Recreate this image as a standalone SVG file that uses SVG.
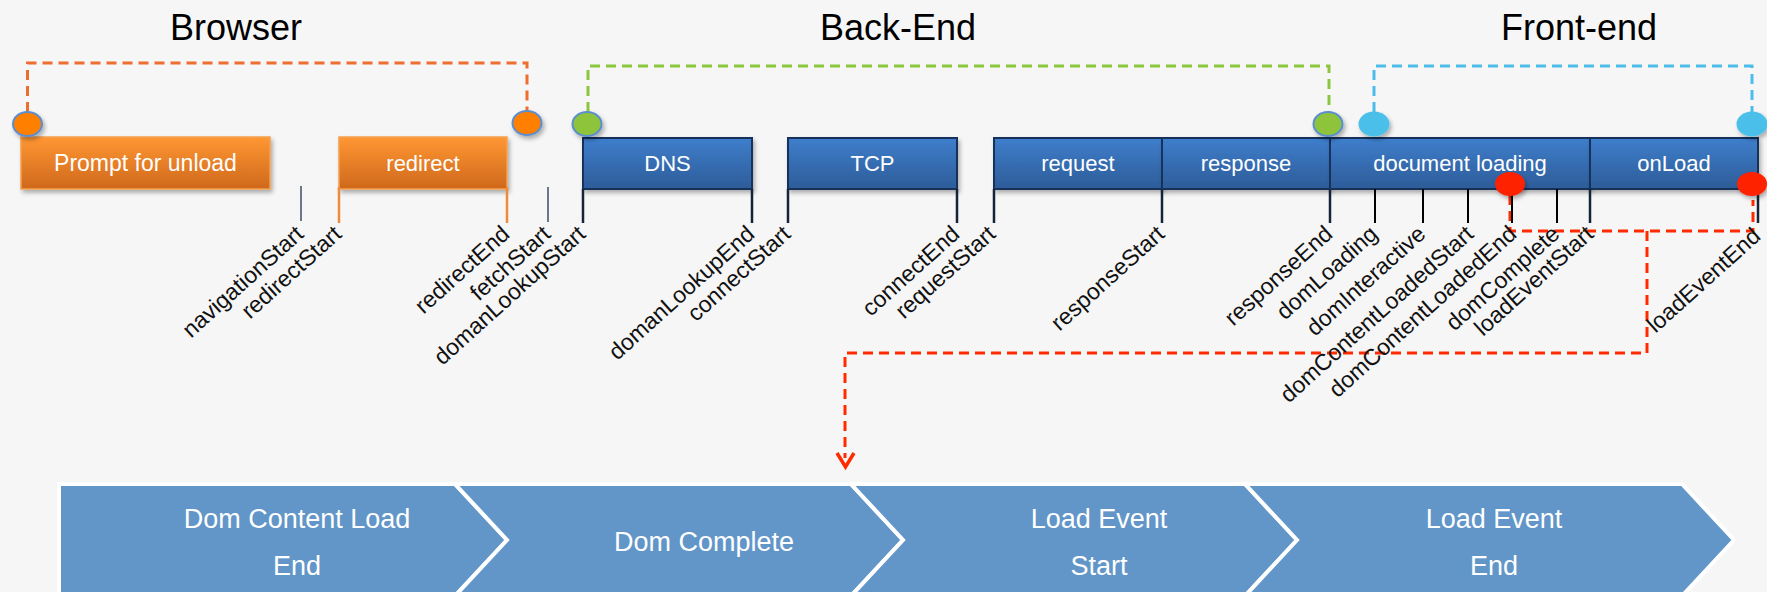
<svg xmlns="http://www.w3.org/2000/svg" width="1767" height="592" viewBox="0 0 1767 592">
<defs>
<linearGradient id="gOrange" x1="0" y1="0" x2="0" y2="1">
<stop offset="0" stop-color="#FF9733"/><stop offset="1" stop-color="#CF681C"/>
</linearGradient>
<linearGradient id="gBlue" x1="0" y1="0" x2="0" y2="1">
<stop offset="0" stop-color="#3F7ECC"/><stop offset="1" stop-color="#2D5C98"/>
</linearGradient>
<filter id="sh" x="-10%" y="-20%" width="130%" height="160%">
<feDropShadow dx="2" dy="3" stdDeviation="2" flood-color="#000" flood-opacity="0.3"/>
</filter>
</defs>
<style>
.title{font-family:"Liberation Sans",Arial,sans-serif;font-size:36px;fill:#000;text-anchor:middle}
.btxt{font-family:"Liberation Sans",Arial,sans-serif;font-size:22px;fill:#fff;text-anchor:middle}
.lbl{font-family:"Liberation Sans",Arial,sans-serif;font-size:23px;fill:#111;text-anchor:end}
.ctxt{font-family:"Liberation Sans",Arial,sans-serif;font-size:27px;fill:#fff;text-anchor:middle}
.obox{fill:url(#gOrange);stroke:#F5A04E;stroke-width:1.5}
.bbox{fill:url(#gBlue);stroke:#15305A;stroke-width:2}
.oline{stroke:#EF8A3C;stroke-width:2.5;fill:none}
.bline{stroke:#15243A;stroke-width:2.5;fill:none}
.tline{stroke:#000;stroke-width:2;fill:none}
.thin{stroke:#3E4F68;stroke-width:1.5;fill:none}
.dash{fill:none;stroke-width:3;stroke-dasharray:10 6}
.chev{fill:#6296C8;stroke:#fff;stroke-width:4;stroke-linejoin:miter}
</style>
<rect x="0" y="0" width="1767" height="592" fill="#F6F6F6"/>

<g id="titles">
<text class="title" x="236" y="40">Browser</text>
<text class="title" x="898" y="40">Back-End</text>
<text class="title" x="1579" y="40">Front-end</text>
</g>

<g id="connectors">
<path class="dash" stroke="#EE6E2E" d="M27.5,112 V63 H527 V111"/>
<path class="dash" stroke="#8CC63E" d="M588,112 V66 H1329 V112"/>
<path class="dash" stroke="#4CBDEA" d="M1374,112 V66 H1752 V112"/>
<path class="dash" stroke="#FF2A00" d="M1510,195 V231 H1753 V200"/>
<path class="dash" stroke="#FF2A00" d="M1647,231 V353 H845 V458"/>
<polyline points="837,453 845.5,467 854,453" fill="none" stroke="#FF2A00" stroke-width="3.5" stroke-linejoin="miter"/>
</g>

<g id="prompt-for-unload">
<rect class="obox" x="21" y="137" width="249" height="52" filter="url(#sh)"/>
<text class="btxt" x="145.5" y="171" style="font-size:23px">Prompt for unload</text>
</g>
<g id="redirect">
<rect class="obox" x="339" y="137" width="168" height="52" filter="url(#sh)"/>
<text class="btxt" x="423" y="171">redirect</text>
<path class="oline" d="M339,187 V223 M507,187 V223"/>
</g>
<g id="dns">
<rect class="bbox" x="583" y="138" width="169" height="51" filter="url(#sh)"/>
<text class="btxt" x="667.5" y="171">DNS</text>
<path class="bline" d="M583,189 V223 M752,189 V223"/>
</g>
<g id="tcp">
<rect class="bbox" x="788" y="138" width="169" height="51" filter="url(#sh)"/>
<text class="btxt" x="872.5" y="171">TCP</text>
<path class="bline" d="M788,189 V223 M957,189 V223"/>
</g>
<g id="request">
<rect class="bbox" x="994" y="138" width="168" height="51" filter="url(#sh)"/>
<text class="btxt" x="1078" y="171">request</text>
<path class="bline" d="M994,189 V223 M1162,189 V223"/>
</g>
<g id="response">
<rect class="bbox" x="1162" y="138" width="168" height="51" filter="url(#sh)"/>
<text class="btxt" x="1246" y="171">response</text>
<path class="bline" d="M1330,189 V223"/>
</g>
<g id="document-loading">
<rect class="bbox" x="1330" y="138" width="260" height="51" filter="url(#sh)"/>
<text class="btxt" x="1460" y="171">document loading</text>
<path class="tline" d="M1375,189 V223 M1423,189 V223 M1468,189 V223 M1512,189 V223 M1557,189 V223"/>
</g>
<g id="onload">
<rect class="bbox" x="1590" y="138" width="168" height="51" filter="url(#sh)"/>
<text class="btxt" x="1674" y="171">onLoad</text>
<path class="bline" d="M1590,189 V223 M1758,189 V223"/>
</g>

<g id="ticks">
<path class="thin" d="M301,186 V221 M548,187 V222"/>
</g>

<g id="markers">
<ellipse cx="27.5" cy="124" rx="14.5" ry="12" fill="#FF7F00" stroke="#5C8ECF" stroke-width="2" filter="url(#sh)"/>
<ellipse cx="527" cy="123" rx="14.5" ry="12" fill="#FF7F00" stroke="#5C8ECF" stroke-width="2" filter="url(#sh)"/>
<ellipse cx="587" cy="124" rx="14.5" ry="12" fill="#8DC43A" stroke="#5C8ECF" stroke-width="2" filter="url(#sh)"/>
<ellipse cx="1328" cy="124" rx="14.5" ry="12" fill="#8DC43A" stroke="#5C8ECF" stroke-width="2" filter="url(#sh)"/>
<ellipse cx="1374" cy="124" rx="15.5" ry="12.5" fill="#4ABFEA" filter="url(#sh)"/>
<ellipse cx="1752" cy="124" rx="15.5" ry="12.5" fill="#4ABFEA" filter="url(#sh)"/>
<ellipse cx="1510" cy="184" rx="15" ry="12" fill="#FF2200" filter="url(#sh)"/>
<ellipse cx="1752" cy="184" rx="15" ry="12" fill="#FF2200" filter="url(#sh)"/>
</g>

<g id="labels">
<text class="lbl" transform="translate(305,236) rotate(-42)">navigationStart</text>
<text class="lbl" transform="translate(343,236) rotate(-42)">redirectStart</text>
<text class="lbl" transform="translate(511,236) rotate(-42)">redirectEnd</text>
<text class="lbl" transform="translate(552,236) rotate(-42)">fetchStart</text>
<text class="lbl" transform="translate(587,236) rotate(-42)">domanLookupStart</text>
<text class="lbl" transform="translate(756,236) rotate(-42)">domanLookupEnd</text>
<text class="lbl" transform="translate(792,236) rotate(-42)">connectStart</text>
<text class="lbl" transform="translate(961,236) rotate(-42)">connectEnd</text>
<text class="lbl" transform="translate(997,236) rotate(-42)">requestStart</text>
<text class="lbl" transform="translate(1166,236) rotate(-42)">responseStart</text>
<text class="lbl" transform="translate(1334,236) rotate(-42)">responseEnd</text>
<text class="lbl" transform="translate(1379,236) rotate(-42)">domLoading</text>
<text class="lbl" transform="translate(1427,236) rotate(-42)">domInteractive</text>
<text class="lbl" transform="translate(1475,236) rotate(-42)">domContentLoadedStart</text>
<text class="lbl" transform="translate(1518,236) rotate(-42)">domContentLoadedEnd</text>
<text class="lbl" transform="translate(1561,236) rotate(-42)">domComplete</text>
<text class="lbl" transform="translate(1595,236) rotate(-42)">loadEventStart</text>
<text class="lbl" transform="translate(1762,238) rotate(-42)">loadEventEnd</text>
</g>

<g id="chevron-dom-content-load-end">
<polygon class="chev" points="59,484 455,484 507,540 455,596 59,596"/>
<text class="ctxt" x="297" y="528">Dom Content Load</text>
<text class="ctxt" x="297" y="575">End</text>
</g>
<g id="chevron-dom-complete">
<polygon class="chev" points="455,484 851,484 903,540 851,596 455,596 507,540"/>
<text class="ctxt" x="704" y="551">Dom Complete</text>
</g>
<g id="chevron-load-event-start">
<polygon class="chev" points="851,484 1245,484 1297,540 1245,596 851,596 903,540"/>
<text class="ctxt" x="1099" y="528">Load Event</text>
<text class="ctxt" x="1099" y="575">Start</text>
</g>
<g id="chevron-load-event-end">
<polygon class="chev" points="1245,484 1682,484 1734,540 1682,596 1245,596 1297,540"/>
<text class="ctxt" x="1494" y="528">Load Event</text>
<text class="ctxt" x="1494" y="575">End</text>
</g>
</svg>
